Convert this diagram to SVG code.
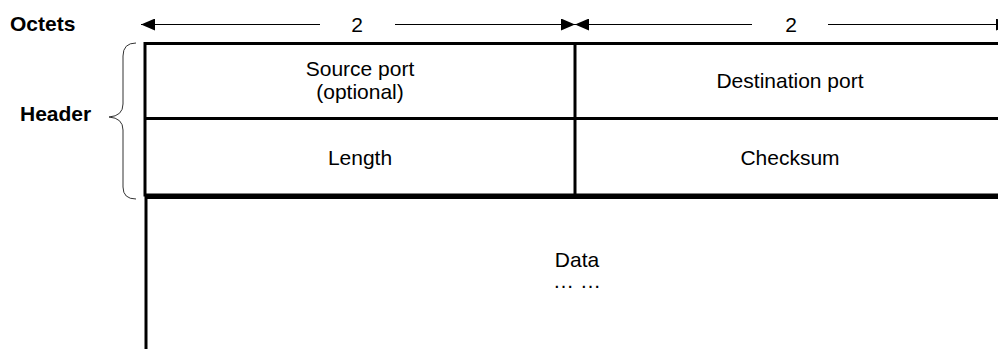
<svg xmlns="http://www.w3.org/2000/svg" width="998" height="349" viewBox="0 0 998 349">
<style>
  text { font-family: "Liberation Sans", Arial, sans-serif; font-size: 21px; fill: #000; }
  .b { font-weight: bold; }
  .c { text-anchor: middle; }
  .box { fill: none; stroke: #000; stroke-width: 3; }
  .dim { stroke: #000; stroke-width: 1; fill: none; }
  .brace { stroke: #333; stroke-width: 1; fill: none; }
</style>
<defs>
  <marker id="ah" viewBox="0 0 14 12" refX="14" refY="6" markerWidth="14" markerHeight="12" markerUnits="userSpaceOnUse" orient="auto">
    <path d="M0,0 L14,6 L0,12 Z" fill="#000"/>
  </marker>
</defs>
<rect width="998" height="349" fill="#fff"/>
<g id="labels">
  <text class="b" x="10" y="31">Octets</text>
  <text class="b" x="20" y="121">Header</text>
</g>
<g id="connectors">
  <line class="dim" x1="320" y1="24.5" x2="141" y2="24.5" marker-end="url(#ah)"/>
  <line class="dim" x1="395" y1="24.5" x2="575" y2="24.5" marker-end="url(#ah)"/>
  <line class="dim" x1="752" y1="24.5" x2="575" y2="24.5" marker-end="url(#ah)"/>
  <line class="dim" x1="828" y1="24.5" x2="1010" y2="24.5" marker-end="url(#ah)"/>
  <path class="brace" d="M136,43 Q123,43 123,56 L123,104 Q123,116 109,117 Q123,118 123,130 L123,187 Q123,199 136,199"/>
</g>
<g id="dim-labels">
  <text class="c" x="357" y="32">2</text>
  <text class="c" x="791" y="32">2</text>
</g>
<g id="header">
  <line class="box" x1="145" y1="43.5" x2="998" y2="43.5"/>
  <line class="box" x1="145" y1="118.5" x2="998" y2="118.5"/>
  <line class="box" x1="145" y1="195" x2="998" y2="195"/>
  <line class="box" x1="145" y1="42" x2="145" y2="196.5"/>
  <line class="box" x1="575" y1="43.5" x2="575" y2="195"/>
</g>
<g id="source-port">
  <text class="c" x="360" y="76">Source port</text>
  <text class="c" x="360" y="99">(optional)</text>
</g>
<g id="destination-port">
  <text class="c" x="790" y="88">Destination port</text>
</g>
<g id="length">
  <text class="c" x="360" y="165">Length</text>
</g>
<g id="checksum">
  <text class="c" x="790" y="165">Checksum</text>
</g>
<g id="data">
  <line class="box" x1="145" y1="197.5" x2="998" y2="197.5"/>
  <line class="box" x1="146" y1="196" x2="146" y2="349"/>
  <text class="c" x="577" y="267">Data</text>
  <text class="c" x="577" y="288">… …</text>
</g>
</svg>
